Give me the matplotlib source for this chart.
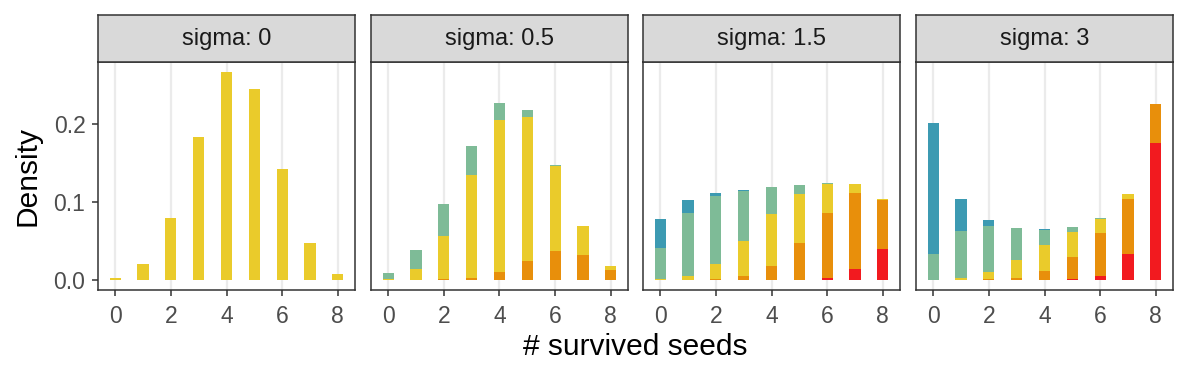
import matplotlib
matplotlib.use("Agg")
import matplotlib.pyplot as plt
import numpy as np

plt.rcParams['font.family'] = ['Liberation Sans', 'DejaVu Sans']

x_vals = [0, 1, 2, 3, 4, 5, 6, 7, 8]
sigmas = ["0", "0.5", "1.5", "3"]
colors = {"red": "#F21A1F", "orange": "#E88F0B", "yellow": "#EACB2B",
          "green": "#7EBB97", "blue": "#3C9AB2"}
stack_order = ["red", "orange", "yellow", "green", "blue"]

zero = [0] * 9

s0_red = zero
s0_orange = zero
s0_yellow = [0.0026, 0.020, 0.080, 0.184, 0.267, 0.246, 0.143, 0.047, 0.0077]
s0_green = zero
s0_blue = zero

s05_red = zero
s05_orange = [0, 0, 0.0013, 0.0026, 0.0102, 0.0243, 0.037, 0.032, 0.0128]
s05_yellow = [0.0013, 0.014, 0.0547, 0.1324, 0.1953, 0.1847, 0.1098, 0.037, 0.0051]
s05_green = [0.0076, 0.024, 0.041, 0.037, 0.0215, 0.009, 0.0012, 0, 0]
s05_blue = zero

s15_red = [0, 0, 0, 0, 0, 0, 0.0026, 0.014, 0.0396]
s15_orange = [0, 0, 0.0013, 0.0051, 0.0179, 0.0472, 0.0829, 0.097, 0.0624]
s15_yellow = [0.0013, 0.0051, 0.0191, 0.0447, 0.0664, 0.0626, 0.0371, 0.0128, 0.0014]
s15_green = [0.0396, 0.0804, 0.0868, 0.0638, 0.0344, 0.0115, 0.0025, 0, 0]
s15_blue = [0.037, 0.0165, 0.0038, 0.0013, 0, 0, 0, 0, 0]

s3_red = [0, 0, 0, 0, 0, 0.0013, 0.0051, 0.0332, 0.1762]
s3_orange = [0, 0, 0.0013, 0.0026, 0.0115, 0.0281, 0.0549, 0.0702, 0.0498]
s3_yellow = [0, 0.0026, 0.0089, 0.0229, 0.0332, 0.0319, 0.0179, 0.0064, 0]
s3_green = [0.0332, 0.06, 0.0587, 0.0409, 0.0191, 0.0064, 0.0012, 0, 0]
s3_blue = [0.1685, 0.0408, 0.0077, 0, 0.0013, 0, 0, 0, 0]

panels = [
    {"red": s0_red, "orange": s0_orange, "yellow": s0_yellow, "green": s0_green, "blue": s0_blue},
    {"red": s05_red, "orange": s05_orange, "yellow": s05_yellow, "green": s05_green, "blue": s05_blue},
    {"red": s15_red, "orange": s15_orange, "yellow": s15_yellow, "green": s15_green, "blue": s15_blue},
    {"red": s3_red, "orange": s3_orange, "yellow": s3_yellow, "green": s3_green, "blue": s3_blue},
]

W, H = 1188, 378
fig = plt.figure(figsize=(W / 100, H / 100), dpi=100)

lefts = [98, 371, 643, 916]
pw = 257
ptop, pbot = 62, 290
stop = 15
border = "#333333"

for i, (sig, data) in enumerate(zip(sigmas, panels)):
    ax = fig.add_axes([lefts[i] / W, (H - pbot) / H, pw / W, (pbot - ptop) / H])
    bottom = np.zeros(9)
    for c in stack_order:
        vals = np.array(data[c], dtype=float)
        ax.bar(x_vals, vals, width=0.4, bottom=bottom, color=colors[c], linewidth=0, zorder=3)
        bottom += vals
    ax.set_xlim(-0.62, 8.62)
    ax.set_ylim(-0.0134, 0.2804)
    ax.set_xticks([0, 2, 4, 6, 8])
    ax.set_yticks([0.0, 0.1, 0.2])
    ax.set_yticklabels(["0.0", "0.1", "0.2"])
    for xv in [0, 2, 4, 6, 8]:
        ax.axvline(xv, color="#EBEBEB", linewidth=1.6, zorder=1)
    for s in ax.spines.values():
        s.set_color(border)
        s.set_linewidth(1.1)
    ax.tick_params(axis="both", colors=border, labelcolor="#4D4D4D", labelsize=16.5,
                   length=4, width=1.1)
    ax.tick_params(axis="x", pad=7)
    ax.tick_params(axis="y", pad=5)
    if i > 0:
        ax.tick_params(axis="y", left=False, labelleft=False)
    # strip
    sax = fig.add_axes([lefts[i] / W, (H - ptop) / H, pw / W, (ptop - stop) / H])
    sax.set_facecolor("#D9D9D9")
    sax.set_xticks([])
    sax.set_yticks([])
    for s in sax.spines.values():
        s.set_color(border)
        s.set_linewidth(1.1)
    sax.text(0.5, 0.5, f"sigma: {sig}", ha="center", va="center", fontsize=17,
             color="#1A1A1A", transform=sax.transAxes)

fig.text(635 / W, 1 - 347 / H, "# survived seeds", ha="center", va="center", fontsize=21.5)
fig.text(28 / W, 1 - 176 / H, "Density", ha="center", va="center", fontsize=21.5, rotation=90)

fig.savefig("out.png", dpi=100)
